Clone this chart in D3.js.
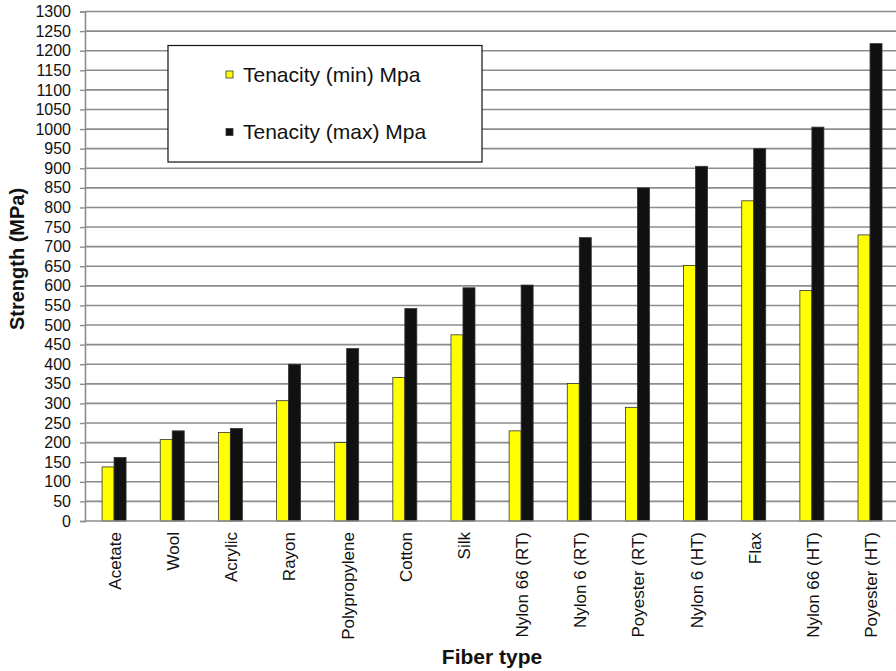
<!DOCTYPE html>
<html>
<head>
<meta charset="utf-8">
<script src="https://cdn.jsdelivr.net/npm/d3@7"></script>
<style>
  body { margin: 0; background: #fff; }
  text { font-family: "Liberation Sans", Arial, sans-serif; }
</style>
</head>
<body>
<div id="chart"></div>
<script>
// fiber types along the x axis
const fibers = ["Acetate", "Wool", "Acrylic", "Rayon", "Polypropylene", "Cotton", "Silk",
  "Nylon 66 (RT)", "Nylon 6 (RT)", "Poyester (RT)", "Nylon 6 (HT)", "Flax", "Nylon 66 (HT)", "Poyester (HT)"];
// tenacity values (MPa)
const tenacityMin = [138, 208, 226, 307, 200, 366, 475, 230, 351, 290, 652, 817, 588, 730];
const tenacityMax = [162, 230, 236, 400, 440, 542, 595, 602, 723, 850, 905, 950, 1005, 1218];
const seriesNames = ["Tenacity (min) Mpa", "Tenacity (max) Mpa"];
const seriesColors = ["#ffff00", "#111111"];
const yTicks = d3.range(0, 1301, 50);

const width = 896, height = 671;
const margin = { top: 11.5, left: 85 };
const plotBottom = 521;

const svg = d3.select("#chart").append("svg")
  .attr("width", width)
  .attr("height", height);

// x scale runs a little past the right edge, like the original
const x0 = d3.scaleBand()
  .domain(fibers)
  .range([margin.left, margin.left + 14 * 58.15]);

const y = d3.scaleLinear()
  .domain([0, 1300])
  .range([plotBottom, margin.top]);

// gridlines
svg.append("g")
  .selectAll("line")
  .data(yTicks.filter(d => d > 0))
  .enter()
  .append("line")
  .attr("x1", margin.left)
  .attr("x2", width)
  .attr("y1", d => y(d))
  .attr("y2", d => y(d))
  .attr("stroke", "#8c8c8c")
  .attr("stroke-width", 1.6);

// y axis
const yAxis = d3.axisLeft(y).tickValues(yTicks).tickFormat(d3.format("d")).tickSize(5).tickPadding(9);
const gy = svg.append("g")
  .attr("transform", `translate(${margin.left},0)`)
  .call(yAxis);
gy.select(".domain").attr("stroke", "#8c8c8c").attr("stroke-width", 1.6);
gy.selectAll(".tick line").attr("stroke", "#8c8c8c").attr("stroke-width", 1.4);
gy.selectAll(".tick text")
  .style("font-size", "16px")
  .style("font-family", "'Liberation Sans', Arial, sans-serif")
  .attr("fill", "#111");

// bars
const data = fibers.map((f, i) => ({ fiber: f, values: [tenacityMin[i], tenacityMax[i]] }));

const groups = svg.append("g")
  .selectAll("g")
  .data(data)
  .enter()
  .append("g")
  .attr("transform", d => `translate(${x0(d.fiber) + x0.bandwidth() / 2},0)`);

const x1 = d3.scaleBand().domain([0, 1]).range([-12, 12]);

groups.selectAll("rect")
  .data(d => d.values.map((v, k) => ({ k: k, v: v })))
  .enter()
  .append("rect")
  .attr("x", d => x1(d.k))
  .attr("width", x1.bandwidth())
  .attr("y", d => y(d.v))
  .attr("height", d => plotBottom - y(d.v))
  .attr("fill", d => seriesColors[d.k])
  .attr("stroke", "#333")
  .attr("stroke-width", 0.8);

// x axis line
svg.append("line")
  .attr("x1", margin.left)
  .attr("x2", width)
  .attr("y1", plotBottom)
  .attr("y2", plotBottom)
  .attr("stroke", "#8c8c8c")
  .attr("stroke-width", 1.6);

// x labels, rotated
svg.append("g")
  .selectAll("text")
  .data(fibers)
  .enter()
  .append("text")
  .attr("transform", d => `translate(${x0(d) + x0.bandwidth() / 2 + 1},532) rotate(-90)`)
  .attr("dy", "0.35em")
  .attr("text-anchor", "end")
  .style("font-size", "17px")
  .attr("fill", "#111")
  .text(d => d);

// axis titles
svg.append("text")
  .attr("transform", "translate(24,259) rotate(-90)")
  .attr("text-anchor", "middle")
  .style("font-size", "20px")
  .style("font-weight", "bold")
  .attr("fill", "#111")
  .text("Strength (MPa)");

svg.append("text")
  .attr("x", 492)
  .attr("y", 664)
  .attr("text-anchor", "middle")
  .style("font-size", "21px")
  .style("font-weight", "bold")
  .attr("fill", "#111")
  .text("Fiber type");

// legend
const legend = svg.append("g");
legend.append("rect")
  .attr("x", 168)
  .attr("y", 45.5)
  .attr("width", 314)
  .attr("height", 116.5)
  .attr("fill", "#fff")
  .attr("stroke", "#111")
  .attr("stroke-width", 1.2);

const legendY = [74.5, 132];
seriesNames.forEach((name, k) => {
  legend.append("rect")
    .attr("x", 226)
    .attr("y", legendY[k] - 3.5)
    .attr("width", 7)
    .attr("height", 7)
    .attr("fill", seriesColors[k])
    .attr("stroke", "#333")
    .attr("stroke-width", 0.8);
  legend.append("text")
    .attr("x", 243)
    .attr("y", legendY[k])
    .attr("dy", "0.35em")
    .style("font-size", "21px")
    .attr("fill", "#111")
    .text(name);
});
</script>
</body>
</html>
